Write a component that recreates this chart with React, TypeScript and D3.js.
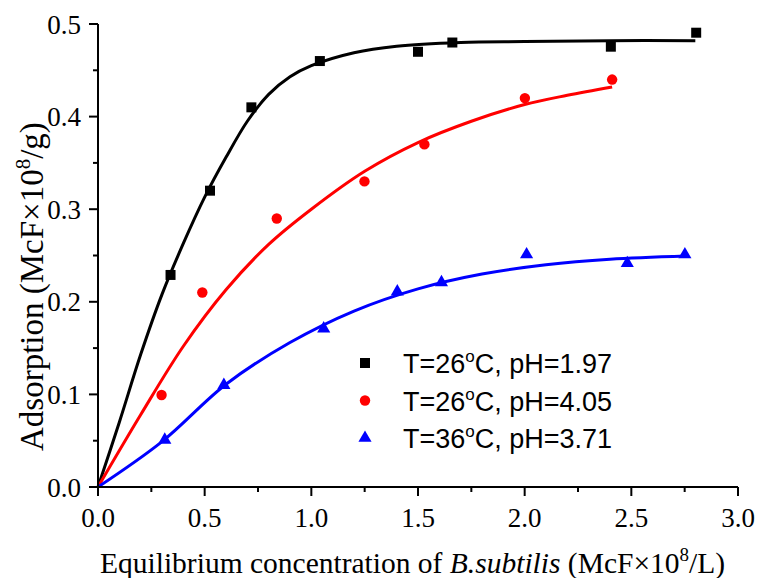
import * as d3 from "d3";

const width = 759;
const height = 578;
const margin = { top: 24, right: 21, bottom: 91, left: 98 };

// measured points
const blackX = [0.34, 0.525, 0.719, 1.04, 1.5, 1.661, 2.404, 2.804];
const blackY = [0.229, 0.32, 0.41, 0.46, 0.47, 0.48, 0.4755, 0.4906];
const redX = [0.298, 0.489, 0.838, 1.249, 1.53, 2.001, 2.41];
const redY = [0.0994, 0.21, 0.29, 0.33, 0.37, 0.42, 0.44];
const blueX = [0.313, 0.59, 1.058, 1.403, 1.61, 2.009, 2.481, 2.751];
const blueY = [0.0508, 0.11, 0.171, 0.211, 0.221, 0.251, 0.2416, 0.251];

// fitted curves
const blackFitX = [0, 0.1, 0.2, 0.3, 0.4, 0.5, 0.6, 0.7, 0.8, 0.9, 1.0, 1.2, 1.4, 1.7, 2.0, 2.4, 2.8];
const blackFitY = [0, 0.07, 0.143, 0.208, 0.263, 0.313, 0.356, 0.395, 0.424, 0.443, 0.455, 0.469, 0.476, 0.48, 0.481, 0.482, 0.482];
const redFitX = [0, 0.2, 0.4, 0.6, 0.8, 1.0, 1.25, 1.5, 1.75, 2.0, 2.2, 2.41];
const redFitY = [0, 0.078, 0.152, 0.213, 0.262, 0.3, 0.341, 0.372, 0.395, 0.413, 0.423, 0.432];
const blueFitX = [0, 0.3, 0.6, 0.9, 1.2, 1.5, 1.8, 2.1, 2.4, 2.754];
const blueFitY = [0, 0.049, 0.111, 0.156, 0.19, 0.214, 0.23, 0.24, 0.246, 0.2495];

const xTicks = [0, 0.5, 1.0, 1.5, 2.0, 2.5, 3.0];
const yTicks = [0, 0.1, 0.2, 0.3, 0.4, 0.5];
const legendLabels = [
  { t: "26", ph: "1.97" },
  { t: "26", ph: "4.05" },
  { t: "36", ph: "3.71" },
];

const x = d3.scaleLinear().domain([0, 3]).range([margin.left, width - margin.right]);
const y = d3.scaleLinear().domain([0, 0.5]).range([height - margin.bottom, margin.top]);

const zip = (a: number[], b: number[]) => a.map((v, i) => [v, b[i]] as [number, number]);

const line = d3
  .line<[number, number]>()
  .x((d) => x(d[0]))
  .y((d) => y(d[1]))
  .curve(d3.curveCatmullRom.alpha(0.5));

const series = [
  { color: "#000000", pts: zip(blackX, blackY), fit: zip(blackFitX, blackFitY), shape: d3.symbolSquare },
  { color: "#ff0000", pts: zip(redX, redY), fit: zip(redFitX, redFitY), shape: d3.symbolCircle },
  { color: "#0000ff", pts: zip(blueX, blueY), fit: zip(blueFitX, blueFitY), shape: d3.symbolTriangle },
];

const symSize = [100, 85, 75];

const serif = "Liberation Serif";
const sans = "Liberation Sans";

export default function App() {
  const x0 = x(0);
  const y0 = y(0);
  const minorX = d3.range(0.25, 3, 0.5);
  const minorY = d3.range(0.05, 0.5, 0.1);

  return (
    <svg width={width} height={height} style={{ position: "absolute", left: 0, top: 0, background: "#fff" }}>
      {/* fit curves */}
      {series.map((s, i) => (
        <path key={"f" + i} d={line(s.fit) || ""} fill="none" stroke={s.color} strokeWidth={3} />
      ))}
      {/* markers */}
      {series.map((s, i) =>
        s.pts.map((p, j) => (
          <path
            key={"m" + i + "-" + j}
            d={d3.symbol().type(s.shape).size(symSize[i])() || ""}
            transform={`translate(${x(p[0])},${y(p[1])})`}
            fill={s.color}
          />
        ))
      )}

      {/* axes */}
      <g stroke="#000" strokeWidth={2} fill="none">
        <line x1={x0} x2={x(3)} y1={y0} y2={y0} />
        <line x1={x0} x2={x0} y1={y0} y2={y(0.5)} />
        {xTicks.map((t) => (
          <line key={"xt" + t} x1={x(t)} x2={x(t)} y1={y0} y2={y0 + 9} />
        ))}
        {minorX.map((t) => (
          <line key={"xm" + t} x1={x(t)} x2={x(t)} y1={y0} y2={y0 + 5} />
        ))}
        {yTicks.map((t) => (
          <line key={"yt" + t} x1={x0 - 9} x2={x0} y1={y(t)} y2={y(t)} />
        ))}
        {minorY.map((t) => (
          <line key={"ym" + t} x1={x0 - 5} x2={x0} y1={y(t)} y2={y(t)} />
        ))}
      </g>
      {xTicks.map((t) => (
        <text key={"xl" + t} x={x(t)} y={y0 + 40} textAnchor="middle" fontFamily={serif} fontSize={27}>
          {t.toFixed(1)}
        </text>
      ))}
      {yTicks.map((t) => (
        <text key={"yl" + t} x={x0 - 17} y={y(t) + 9.5} textAnchor="end" fontFamily={serif} fontSize={27}>
          {t.toFixed(1)}
        </text>
      ))}

      {/* axis titles */}
      <text x={100} y={573} fontFamily={serif} fontSize={29.5}>
        Equilibrium concentration of  <tspan fontStyle="italic">B.subtilis</tspan> (McF×10
        <tspan fontSize={19} dy={-12}>8</tspan>
        <tspan dy={12}>/L)</tspan>
      </text>
      <text transform="translate(43,451) rotate(-90)" fontFamily={serif} fontSize={33}>
        Adsorption (McF×10<tspan fontSize={21} dy={-13}>8</tspan>
        <tspan dy={13}>/g)</tspan>
      </text>

      {/* legend */}
      {legendLabels.map((l, i) => {
        const ly = 363 + i * 37.5;
        return (
          <g key={"lg" + i}>
            <path
              d={d3.symbol().type(series[i].shape).size(symSize[i])() || ""}
              transform={`translate(365,${ly})`}
              fill={series[i].color}
            />
            <text x={403} y={ly + 10} fontFamily={sans} fontSize={27}>
              T={l.t}
              <tspan fontSize={17} dy={-11}>o</tspan>
              <tspan dy={11}>C, pH={l.ph}</tspan>
            </text>
          </g>
        );
      })}
    </svg>
  );
}
